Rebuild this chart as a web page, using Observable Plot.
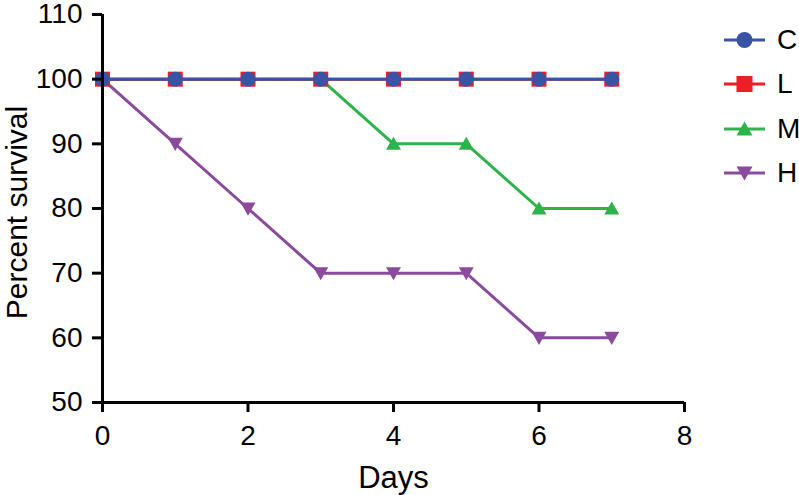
<!DOCTYPE html>
<html>
<head>
<meta charset="utf-8">
<script src="https://cdn.jsdelivr.net/npm/d3@7"></script>
<script src="https://cdn.jsdelivr.net/npm/@observablehq/plot@0.6"></script>
<style>
  body { margin: 0; background: #fff; }
  #wrap { position: relative; width: 799px; height: 495px; font-family: "Liberation Sans", Arial, sans-serif; }
  #legend { position: absolute; left: 722px; top: 18px; }
  .row { display: flex; align-items: center; height: 44.3px; }
  .row span { font-size: 28px; margin-left: 9px; color: #000; line-height: 1; }
</style>
</head>
<body>
<div id="wrap"><div id="legend"></div></div>
<script>
// ---- data ----
const days = [0, 1, 2, 3, 4, 5, 6, 7];
const seriesNames = ["C", "L", "M", "H"];
const survivalC = [100, 100, 100, 100, 100, 100, 100, 100];
const survivalL = [100, 100, 100, 100, 100, 100, 100, 100];
const survivalM = [100, 100, 100, 100, 90, 90, 80, 80];
const survivalH = [100, 90, 80, 70, 70, 70, 60, 60];
const xTicks = [0, 2, 4, 6, 8];
const yTicks = [50, 60, 70, 80, 90, 100, 110];
const colors = ["#3a53a4", "#ec1f27", "#2db34a", "#8a4b9e"];

const values = {C: survivalC, L: survivalL, M: survivalM, H: survivalH};

// ---- symbols ----
const rOf = (size) => Math.sqrt(size / Math.PI);
const symSquare = {draw(ctx, size) { const r = rOf(size); ctx.rect(-r, -r, 2 * r, 2 * r); }};
const symCircle = {draw(ctx, size) { const r = rOf(size); ctx.moveTo(r, 0); ctx.arc(0, 0, r, 0, 2 * Math.PI); }};
const symTriUp = {draw(ctx, size) { const r = rOf(size); ctx.moveTo(0, -0.95 * r); ctx.lineTo(r, 0.8 * r); ctx.lineTo(-r, 0.8 * r); ctx.closePath(); }};
const symTriDown = {draw(ctx, size) { const r = rOf(size); ctx.moveTo(0, 0.95 * r); ctx.lineTo(r, -0.8 * r); ctx.lineTo(-r, -0.8 * r); ctx.closePath(); }};
const symbols = {C: symCircle, L: symSquare, M: symTriUp, H: symTriDown};

const rows = seriesNames.flatMap((s) => days.map((d, i) => ({series: s, day: d, value: values[s][i]})));

const font = "Liberation Sans, Arial, sans-serif";
const marks = [];
// draw bottom to top: H, M, L, C
for (const s of ["H", "M", "L", "C"]) {
  const data = rows.filter((r) => r.series === s);
  const c = colors[seriesNames.indexOf(s)];
  marks.push(Plot.line(data, {x: "day", y: "value", stroke: c, strokeWidth: 3}));
  marks.push(Plot.dot(data, {x: "day", y: "value", symbol: symbols[s], r: 7.5, fill: c, stroke: "none"}));
}

const plot = Plot.plot({
  width: 799,
  height: 495,
  marginLeft: 102,
  marginRight: 115,
  marginTop: 14,
  marginBottom: 93,
  style: {fontFamily: font, fontSize: "28px", background: "transparent", color: "#000", overflow: "visible"},
  x: {domain: [0, 8]},
  y: {domain: [50, 110]},
  marks: [
    ...marks,
    Plot.ruleX([0], {stroke: "#000", strokeWidth: 3}),
    Plot.ruleY([50], {stroke: "#000", strokeWidth: 3}),
    Plot.axisX(xTicks, {tickSize: 10, tickPadding: 13, strokeWidth: 3, stroke: "#000", fontSize: 28, label: null}),
    Plot.axisY(yTicks, {tickSize: 10, tickPadding: 10, strokeWidth: 3, stroke: "#000", fontSize: 28, label: null}),
    Plot.text(["Days"], {frameAnchor: "bottom", lineAnchor: "bottom", dy: 85, fontSize: 31, fill: "#000"}),
    Plot.text(["Percent survival"], {frameAnchor: "left", textAnchor: "middle", lineAnchor: "middle", rotate: -90, dx: -85, dy: 4, fontSize: 30, fill: "#000"})
  ]
});
document.getElementById("wrap").prepend(plot);

// ---- legend ----
const legend = d3.select("#legend");
seriesNames.forEach((s, i) => {
  const row = legend.append("div").attr("class", "row");
  const svg = row.append("svg").attr("width", 46).attr("height", 30);
  svg.append("line").attr("x1", 2).attr("x2", 43).attr("y1", 15).attr("y2", 15)
    .attr("stroke", colors[i]).attr("stroke-width", 3);
  svg.append("path").attr("transform", "translate(22.5,15)")
    .attr("d", d3.symbol(symbols[s], Math.PI * 8 * 8)()).attr("fill", colors[i]);
  row.append("span").text(s);
});
</script>
</body>
</html>
